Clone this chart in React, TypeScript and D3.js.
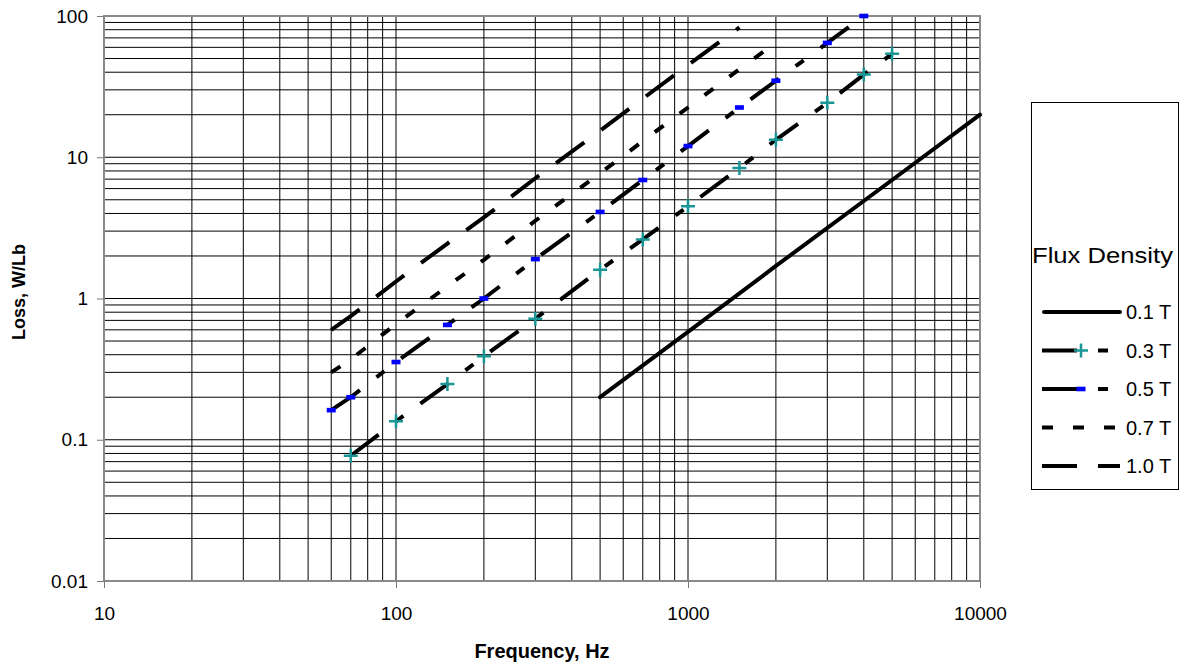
import { useEffect, useRef } from "react";
import * as d3 from "d3";

// values (frequency in Hz, loss in W/Lb)
const FREQ_01 = [500, 1000, 2000, 5000, 10000];
const LOSS_01 = [0.2, 0.58, 1.7, 6.9, 20];

const FREQ_03 = [70, 100, 150, 200, 300, 500, 700, 1000, 1500, 2000, 3000, 4000, 5000];
const LOSS_03 = [0.077, 0.135, 0.248, 0.39, 0.72, 1.6, 2.62, 4.5, 8.4, 13.3, 24.3, 38.5, 54];

const FREQ_05 = [60, 70, 100, 150, 200, 300, 500, 700, 1000, 1500, 2000, 3000, 4000];
const LOSS_05 = [0.162, 0.2, 0.355, 0.65, 1.0, 1.9, 4.1, 6.9, 12, 22.5, 34.8, 64.5, 100];

const FREQ_07 = [60, 70, 100, 150, 200, 300, 500, 700, 1000, 1500, 2000];
const LOSS_07 = [0.3, 0.37, 0.66, 1.22, 1.88, 3.55, 7.7, 13, 22.5, 42, 65];

const FREQ_10 = [60, 70, 100, 150, 200, 300, 500, 700, 1000, 1500];
const LOSS_10 = [0.6, 0.75, 1.32, 2.45, 3.75, 7.1, 15.4, 26, 45, 83];

const X_TICKS = [10, 100, 1000, 10000];
const X_TICK_LABELS = ["10", "100", "1000", "10000"];
const Y_TICKS = [0.01, 0.1, 1, 10, 100];
const Y_TICK_LABELS = ["0.01", "0.1", "1", "10", "100"];

const SERIES_NAMES = ["0.1 T", "0.3 T", "0.5 T", "0.7 T", "1.0 T"];

const FONT = "'Liberation Sans', Arial, sans-serif";
const TEAL = "#1a9696";
const BLUE = "#0000ff";

type Marker = "plus" | "dash" | null;

const SERIES: { name: string; freq: number[]; loss: number[]; dash: string | null; marker: Marker }[] = [
  { name: SERIES_NAMES[0], freq: FREQ_01, loss: LOSS_01, dash: null, marker: null },
  { name: SERIES_NAMES[1], freq: FREQ_03, loss: LOSS_03, dash: "35,21,10,21", marker: "plus" },
  { name: SERIES_NAMES[2], freq: FREQ_05, loss: LOSS_05, dash: "35,21,10,21", marker: "dash" },
  { name: SERIES_NAMES[3], freq: FREQ_07, loss: LOSS_07, dash: "11,20", marker: null },
  { name: SERIES_NAMES[4], freq: FREQ_10, loss: LOSS_10, dash: "35,21", marker: null },
];

const W = 1184;
const H = 664;
const margin = { top: 16, right: 204, bottom: 83, left: 104 };

function drawMarker(g: d3.Selection<SVGGElement, unknown, null, undefined>, kind: Marker, cx: number, cy: number) {
  if (kind === "plus") {
    g.append("path")
      .attr("d", `M${cx - 7},${cy}H${cx + 7}M${cx},${cy - 7}V${cy + 7}`)
      .attr("stroke", TEAL)
      .attr("stroke-width", 2.5)
      .attr("fill", "none");
  } else if (kind === "dash") {
    g.append("rect")
      .attr("x", cx - 4.5)
      .attr("y", cy - 2.3)
      .attr("width", 9)
      .attr("height", 4.6)
      .attr("fill", BLUE);
  }
}

export default function App() {
  const svgRef = useRef<SVGSVGElement>(null);

  useEffect(() => {
    if (!svgRef.current) return;
    const svg = d3.select(svgRef.current);
    svg.selectAll("*").remove();

    const x0 = margin.left;
    const x1 = W - margin.right;
    const y0 = margin.top;
    const y1 = H - margin.bottom;

    const x = d3.scaleLog().domain([10, 10000]).range([x0, x1]);
    const y = d3.scaleLog().domain([0.01, 100]).range([y1, y0]);

    // grid: every 1..9 step in each decade
    const grid = svg.append("g").attr("stroke", "#000").attr("stroke-width", 1);
    grid
      .selectAll("line.v")
      .data(x.ticks())
      .join("line")
      .attr("class", "v")
      .attr("x1", (d) => x(d))
      .attr("x2", (d) => x(d))
      .attr("y1", y0)
      .attr("y2", y1);
    grid
      .selectAll("line.h")
      .data(y.ticks())
      .join("line")
      .attr("class", "h")
      .attr("x1", x0)
      .attr("x2", x1)
      .attr("y1", (d) => y(d))
      .attr("y2", (d) => y(d));

    // plot frame
    svg
      .append("rect")
      .attr("x", x0)
      .attr("y", y0)
      .attr("width", x1 - x0)
      .attr("height", y1 - y0)
      .attr("fill", "none")
      .attr("stroke", "#8a8a8a")
      .attr("stroke-width", 2);

    // axes
    const styleAxis = (axis: d3.Selection<SVGGElement, unknown, null, undefined>) => {
      axis.select(".domain").remove();
      axis.selectAll("line").attr("stroke", "#777").attr("stroke-width", 1);
      axis.selectAll("text").attr("fill", "#000").attr("font-size", "19px").attr("font-family", FONT);
    };

    svg
      .append("g")
      .attr("transform", `translate(${x0},0)`)
      .call(
        d3
          .axisLeft(y)
          .tickValues(Y_TICKS)
          .tickFormat((_, i) => Y_TICK_LABELS[i])
          .tickSize(7)
          .tickPadding(9)
      )
      .call(styleAxis);

    svg
      .append("g")
      .attr("transform", `translate(0,${y1})`)
      .call(
        d3
          .axisBottom(x)
          .tickValues(X_TICKS)
          .tickFormat((_, i) => X_TICK_LABELS[i])
          .tickSize(7)
          .tickPadding(19)
      )
      .call(styleAxis);

    // series lines
    const line = d3
      .line<[number, number]>()
      .x((d) => x(d[0]))
      .y((d) => y(d[1]));

    const plot = svg.append("g");
    SERIES.forEach((s) => {
      const pts = s.freq.map((f, i) => [f, s.loss[i]] as [number, number]);
      plot
        .append("path")
        .attr("d", line(pts))
        .attr("fill", "none")
        .attr("stroke", "#000")
        .attr("stroke-width", 4)
        .attr("stroke-linecap", s.dash ? "butt" : "round")
        .attr("stroke-dasharray", s.dash ?? null);
    });
    SERIES.forEach((s) => {
      if (!s.marker) return;
      s.freq.forEach((f, i) => drawMarker(plot, s.marker, x(f), y(s.loss[i])));
    });

    // axis titles
    svg
      .append("text")
      .attr("transform", "translate(25,292) rotate(-90)")
      .attr("text-anchor", "middle")
      .attr("font-family", FONT)
      .attr("font-weight", "bold")
      .attr("font-size", "18px")
      .text("Loss, W/Lb");

    svg
      .append("text")
      .attr("x", 542)
      .attr("y", 658)
      .attr("text-anchor", "middle")
      .attr("font-family", FONT)
      .attr("font-weight", "bold")
      .attr("font-size", "20px")
      .text("Frequency, Hz");

    // legend
    const lg = svg.append("g");
    lg.append("rect")
      .attr("x", 1031.5)
      .attr("y", 102.5)
      .attr("width", 147)
      .attr("height", 387)
      .attr("fill", "#fff")
      .attr("stroke", "#000")
      .attr("stroke-width", 1);
    lg.append("text")
      .attr("x", 1032)
      .attr("y", 263)
      .attr("font-family", FONT)
      .attr("font-size", "22px")
      .attr("textLength", 141)
      .attr("lengthAdjust", "spacingAndGlyphs")
      .text("Flux Density");

    const legendY = d3.scalePoint<string>().domain(SERIES_NAMES).range([312, 466]);
    SERIES.forEach((s) => {
      const ly = legendY(s.name)!;
      lg.append("line")
        .attr("x1", s.dash ? 1042 : 1044)
        .attr("x2", 1120)
        .attr("y1", ly)
        .attr("y2", ly)
        .attr("stroke", "#000")
        .attr("stroke-width", 4)
        .attr("stroke-linecap", s.dash ? "butt" : "round")
        .attr("stroke-dasharray", s.dash ?? null);
      drawMarker(lg, s.marker, 1081, ly);
      lg.append("text")
        .attr("x", 1126)
        .attr("y", ly)
        .attr("dy", "0.36em")
        .attr("font-family", FONT)
        .attr("font-size", "20px")
        .text(s.name);
    });
  }, []);

  return (
    <svg
      ref={svgRef}
      width={W}
      height={H}
      style={{ position: "absolute", left: 0, top: 0, background: "#fff", display: "block" }}
    />
  );
}
